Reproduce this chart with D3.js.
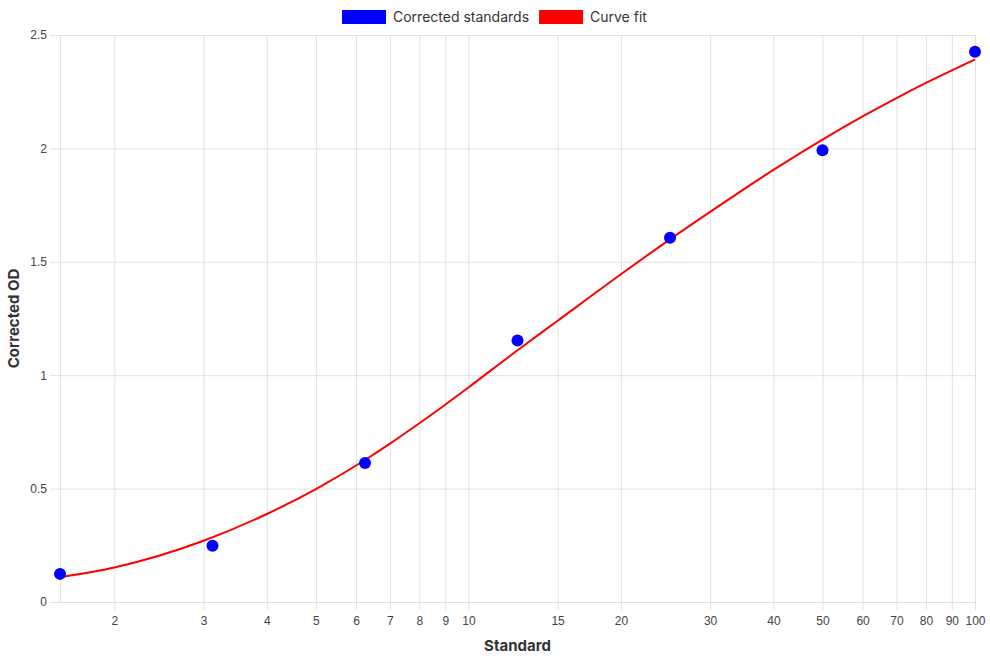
<!DOCTYPE html>
<html>
<head>
<meta charset="utf-8">
<script src="https://cdn.jsdelivr.net/npm/d3@7"></script>
<style>
  body { margin: 0; background: #fff; }
  svg text { fill: #333; }
  .tick text { font-family: "Liberation Sans", Arial, sans-serif; font-size: 12px; fill: #444; }
  .grid line { stroke: #e1e1e1; }
  .grid path { display: none; }
</style>
</head>
<body>
<svg id="chart" width="990" height="660"></svg>
<script>
// measured standards (serial dilution) and their corrected OD
const standards = [1.5625, 3.125, 6.25, 12.5, 25, 50, 100];
const correctedOD = [0.124, 0.248, 0.613, 1.153, 1.606, 1.992, 2.426];

// curve fit
const fitX = [1.5625, 2, 3, 4, 5, 6.25, 7, 8, 9, 10, 12.5, 15, 20, 25, 30, 40, 50, 60, 70, 80, 90, 100];
const fitY = [0.109, 0.152, 0.270, 0.388, 0.498, 0.626, 0.698, 0.788, 0.870, 0.946, 1.110, 1.240, 1.445, 1.599, 1.720, 1.905, 2.039, 2.141, 2.222, 2.289, 2.344, 2.392];

const xTicks = [2, 3, 4, 5, 6, 7, 8, 9, 10, 15, 20, 30, 40, 50, 60, 70, 80, 90, 100];
const yTicks = [0, 0.5, 1, 1.5, 2, 2.5];

const legendItems = [
  { label: "Corrected standards", color: "#0000ff" },
  { label: "Curve fit", color: "#ff0000" }
];

const svg = d3.select("#chart");
const margin = { left: 60, right: 15, top: 35, bottom: 58 };
const W = 990, H = 660;

const x = d3.scaleLog()
  .domain([1.5625, 100])
  .range([margin.left, W - margin.right]);
const y = d3.scaleLinear()
  .domain([0, 2.5])
  .range([H - margin.bottom, margin.top]);

const plotH = y(0) - y(2.5);

// vertical grid (with 8px tick marks below the axis)
svg.append("g")
  .attr("class", "grid")
  .attr("transform", `translate(0,${y(0) + 8})`)
  .call(d3.axisBottom(x).tickValues(xTicks).tickSize(-(plotH + 8)).tickFormat(""));

// left edge of the plot
svg.append("g")
  .attr("class", "grid")
  .attr("transform", `translate(0,${y(0)})`)
  .call(d3.axisBottom(x).tickValues([1.5625]).tickSize(-plotH).tickFormat(""));

// horizontal grid (with tick marks left of the axis)
svg.append("g")
  .attr("class", "grid")
  .attr("transform", `translate(${x(1.5625) - 10},0)`)
  .call(d3.axisRight(y).tickValues(yTicks).tickSize(x(100) - x(1.5625) + 10).tickFormat(""));

// x labels
const xAxis = svg.append("g")
  .attr("transform", `translate(0,${y(0)})`)
  .call(d3.axisBottom(x).tickValues(xTicks).tickSize(0).tickPadding(14).tickFormat(d => d));
xAxis.select(".domain").remove();

// y labels
const yAxis = svg.append("g")
  .attr("transform", `translate(${x(1.5625)},0)`)
  .call(d3.axisLeft(y).tickValues(yTicks).tickSize(0).tickPadding(13).tickFormat(d => d));
yAxis.select(".domain").remove();

// curve fit
const line = d3.line()
  .x((d, i) => x(fitX[i]))
  .y(d => y(d))
  .curve(d3.curveMonotoneX);

svg.append("path")
  .datum(fitY)
  .attr("d", line)
  .attr("fill", "none")
  .attr("stroke", "#ff0000")
  .attr("stroke-width", 2);

// standards
svg.selectAll("circle.std")
  .data(correctedOD)
  .enter()
  .append("circle")
  .attr("class", "std")
  .attr("cx", (d, i) => x(standards[i]))
  .attr("cy", d => y(d))
  .attr("r", 6)
  .attr("fill", "#0000ff");

// axis titles
svg.append("text")
  .attr("x", (x.range()[0] + x.range()[1]) / 2)
  .attr("y", 651)
  .attr("text-anchor", "middle")
  .style("font-family", "Inter, 'Open Sans', sans-serif")
  .style("font-weight", 700)
  .style("font-size", "15px")
  .text("Standard");

svg.append("text")
  .attr("transform", `translate(19,${(y(0) + y(2.5)) / 2}) rotate(-90)`)
  .attr("text-anchor", "middle")
  .style("font-family", "Inter, 'Open Sans', sans-serif")
  .style("font-weight", 700)
  .style("font-size", "15px")
  .text("Corrected OD");

// legend
const legend = svg.append("g").attr("transform", "translate(342,10)");
let lx = 0;
legendItems.forEach(d => {
  const item = legend.append("g").attr("transform", `translate(${lx},0)`);
  item.append("rect")
    .attr("width", 44)
    .attr("height", 14)
    .attr("fill", d.color);
  const t = item.append("text")
    .attr("x", 51)
    .attr("y", 7)
    .attr("dy", "0.35em")
    .style("font-family", "Inter, 'Open Sans', sans-serif")
    .style("font-size", "14px")
    .text(d.label);
  lx += 51 + t.node().getComputedTextLength() + 10;
});
</script>
</body>
</html>
